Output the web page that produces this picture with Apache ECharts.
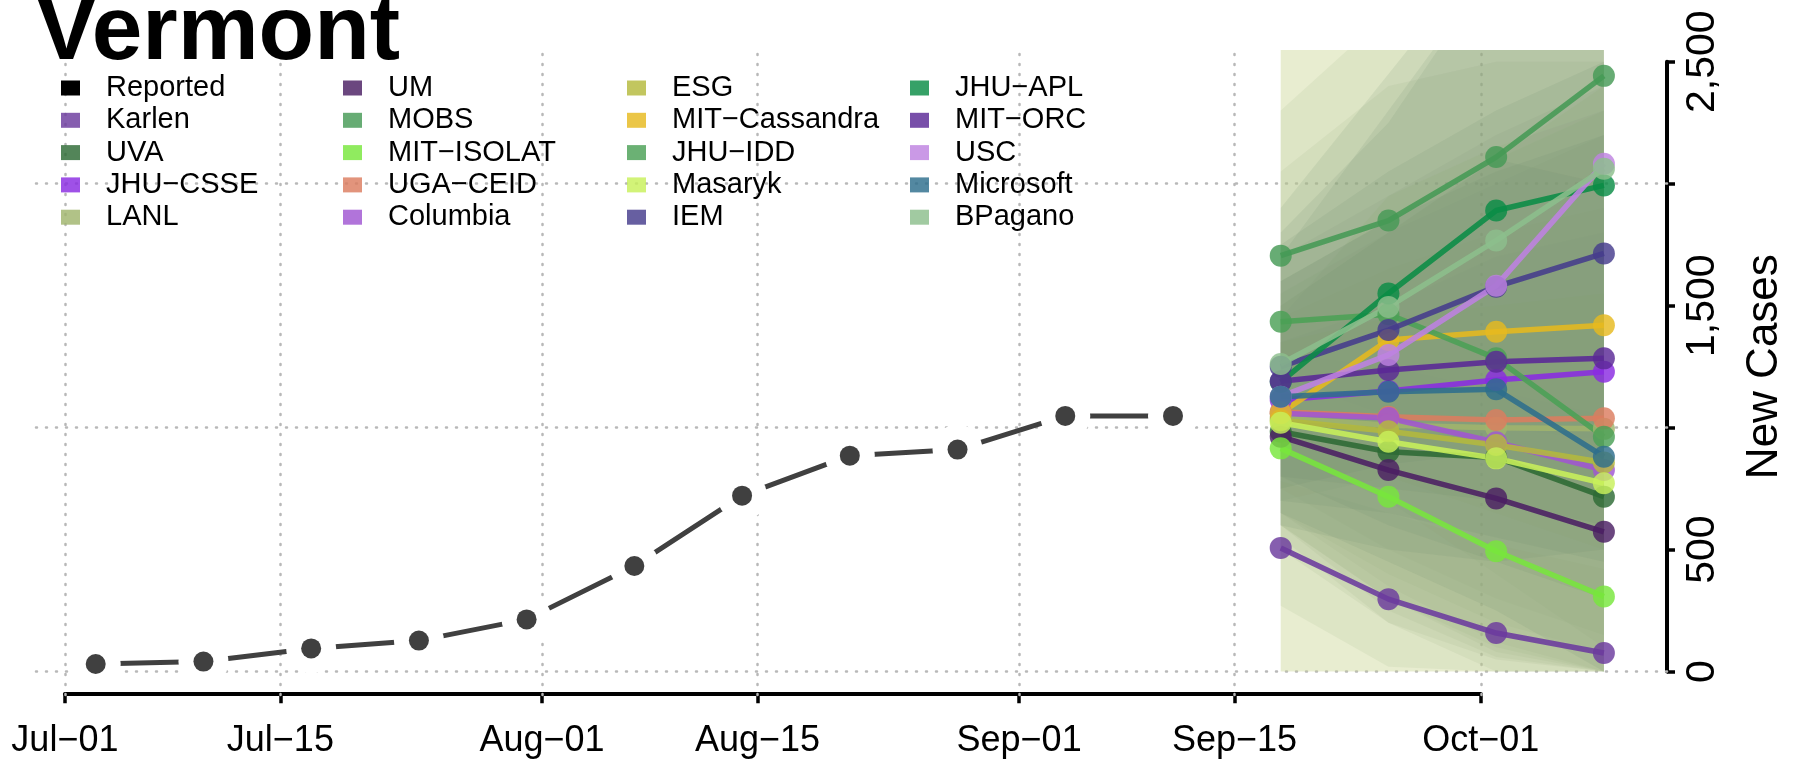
<!DOCTYPE html>
<html>
<head>
<meta charset="utf-8">
<script src="https://cdn.jsdelivr.net/npm/echarts@6/dist/echarts.min.js"></script>
<style>
html,body{margin:0;padding:0;background:#fff;}
#chart{width:1795px;height:764px;}
</style>
</head>
<body>
<div id="chart"></div>
<script>
// ---------- DATA ----------
const titleText = 'Vermont';
const yAxisName = 'New Cases';

const tickDates = ['2021-07-01','2021-07-15','2021-08-01','2021-08-15','2021-09-01','2021-09-15','2021-10-01'];
const tickLabels = ['Jul\u221201','Jul\u221215','Aug\u221201','Aug\u221215','Sep\u221201','Sep\u221215','Oct\u221201'];
const yTicks = [0, 500, 1000, 1500, 2000, 2500];
const yTickLabels = ['0', '500', '', '1,500', '', '2,500'];

const reportedDates = ['2021-07-03','2021-07-10','2021-07-17','2021-07-24','2021-07-31','2021-08-07',
                       '2021-08-14','2021-08-21','2021-08-28','2021-09-04','2021-09-11'];
const reportedCases = [31, 41, 95, 127, 214, 433, 721, 885, 910, 1048, 1048];

const forecastDates = ['2021-09-18','2021-09-25','2021-10-02','2021-10-09'];

const modelNames = ['Karlen','UVA','JHU\u2212CSSE','LANL','UM','MOBS','MIT\u2212ISOLAT','UGA\u2212CEID','Columbia',
                    'ESG','MIT\u2212Cassandra','JHU\u2212IDD','Masaryk','IEM','JHU\u2212APL','MIT\u2212ORC','USC','Microsoft','BPagano'];

const forecastMedian = [
  [507, 297, 158, 76],     // Karlen
  [983, 901, 878, 717],    // UVA
  [1113, 1150, 1195, 1229],// JHU-CSSE
  [1040, 1010, 1000, 995], // LANL
  [963, 826, 710, 573],    // UM
  [1705, 1849, 2109, 2442],// MOBS
  [915, 717, 493, 308],    // MIT-ISOLAT
  [1065, 1045, 1031, 1038],// UGA-CEID
  [1059, 1039, 940, 826],  // Columbia
  [1030, 985, 929, 857],   // ESG
  [1059, 1359, 1393, 1420],// MIT-Cassandra
  [1434, 1465, 1284, 963], // JHU-IDD
  [1020, 942, 874, 772],   // Masaryk
  [1250, 1400, 1578, 1714],// IEM
  [1188, 1550, 1890, 1993],// JHU-APL
  [1190, 1236, 1270, 1284],// MIT-ORC
  [1127, 1298, 1582, 2082],// USC
  [1127, 1147, 1157, 881], // Microsoft
  [1261, 1495, 1767, 2061] // BPagano
];
const forecastLower = [
  [270, 20, 0, 0],
  [650, 350, 120, 0],
  [750, 500, 300, 150],
  [600, 300, 80, 0],
  [600, 250, 60, 0],
  [1200, 1050, 1000, 950],
  [550, 200, 0, 0],
  [500, 200, 50, 0],
  [600, 300, 100, 0],
  [650, 400, 200, 80],
  [700, 800, 650, 500],
  [900, 700, 400, 100],
  [0, 0, 0, 0],
  [800, 750, 700, 600],
  [750, 850, 900, 700],
  [800, 600, 450, 300],
  [600, 500, 450, 500],
  [650, 450, 250, 0],
  [700, 650, 550, 450]
];
const forecastUpper = [
  [780, 650, 520, 420],
  [1350, 1500, 1700, 1800],
  [1500, 1800, 2100, 2400],
  [1500, 1800, 2100, 2300],
  [1350, 1450, 1500, 1550],
  [2300, 2700, 3100, 3700],
  [1300, 1250, 1150, 1050],
  [1700, 1950, 2200, 2400],
  [1550, 1800, 2000, 2200],
  [1450, 1650, 1800, 1900],
  [1450, 1950, 2150, 2300],
  [2050, 2400, 2500, 2500],
  [2700, 2800, 2900, 3000],
  [1750, 2050, 2300, 2500],
  [1700, 2300, 2900, 3200],
  [1600, 1850, 2050, 2200],
  [1800, 2250, 2900, 3700],
  [1600, 1850, 2100, 2000],
  [1900, 2450, 3000, 3500]
];

// ---------- STYLES ----------
const modelColors = {
  'Karlen':'#6b3a9e','UVA':'#2d6a34','JHU\u2212CSSE':'#8a2be2','LANL':'#a0b46c','UM':'#4b1f63',
  'MOBS':'#469a55','MIT\u2212ISOLAT':'#78e63c','UGA\u2212CEID':'#dc7d5f','Columbia':'#a055d2',
  'ESG':'#b4b93c','MIT\u2212Cassandra':'#e6b91e','JHU\u2212IDD':'#4ba055','Masaryk':'#c8f05a',
  'IEM':'#463c8c','JHU\u2212APL':'#0a8c46','MIT\u2212ORC':'#5a2896','USC':'#be82e1',
  'Microsoft':'#2d6e8c','BPagano':'#8cbe8c'
};
const bandFillDefault = 'rgba(112,140,112,0.13)';
const bandFillSpecial = {'Masaryk':'rgba(205,215,150,0.45)'};

const legendColumns = [
  ['Reported','Karlen','UVA','JHU\u2212CSSE','LANL'],
  ['UM','MOBS','MIT\u2212ISOLAT','UGA\u2212CEID','Columbia'],
  ['ESG','MIT\u2212Cassandra','JHU\u2212IDD','Masaryk','IEM'],
  ['JHU\u2212APL','MIT\u2212ORC','USC','Microsoft','BPagano']
];
const legendLefts = [61, 343, 627, 910];
const FONT = "'Liberation Sans', Arial, Helvetica, sans-serif";

// ---------- BUILD ----------
const origin = Date.parse('2021-07-01');
const dayOf = s => (Date.parse(s) - origin) / 86400000;
const tickDays = tickDates.map(dayOf);
const fDays = forecastDates.map(dayOf);

const series = [];

// gridlines (drawn first)
series.push({
  type: 'line', xAxisIndex: 0, yAxisIndex: 0, data: [], silent: true, z: 1,
  markLine: {
    silent: true, z: 1, symbol: ['none','none'], label: {show: false}, animation: false,
    lineStyle: {color: '#b8b8b8', type: [1, 9], width: 2.5, cap: 'round'},
    data: tickDays.map(d => ({xAxis: d})).concat([0, 1000, 2000].map(v => ({yAxis: v})))
  }
});

// interval bands (one polygon per model, positioned by the axes)
series.push({
  type: 'custom', xAxisIndex: 0, yAxisIndex: 0, z: 2, silent: true, clip: true,
  data: modelNames.map((m, i) => [i]),
  dimensions: ['model'],
  encode: {x: [], y: []},
  renderItem: function (params, api) {
    const i = api.value(0);
    const m = modelNames[i];
    const upper = fDays.map((d, k) => api.coord([d, forecastUpper[i][k]]));
    const lower = fDays.map((d, k) => api.coord([d, forecastLower[i][k]])).reverse();
    return {
      type: 'polygon',
      shape: {points: upper.concat(lower)},
      style: {fill: bandFillSpecial[m] || bandFillDefault, stroke: null}
    };
  }
});

// reported
const repData = reportedDates.map((d, k) => [dayOf(d), reportedCases[k]]);
series.push({
  name: 'Reported', type: 'line', xAxisIndex: 0, yAxisIndex: 0, z: 3,
  data: repData, symbol: 'none', color: '#404040',
  lineStyle: {color: '#404040', width: 5}
});
series.push({
  type: 'scatter', xAxisIndex: 0, yAxisIndex: 0, z: 4, silent: true,
  data: repData, symbol: 'circle', symbolSize: 50, itemStyle: {color: '#ffffff', opacity: 1}
});
series.push({
  type: 'scatter', xAxisIndex: 0, yAxisIndex: 0, z: 5, silent: true,
  data: repData, symbol: 'circle', symbolSize: 20, itemStyle: {color: '#404040', opacity: 1}
});

// forecasts
modelNames.forEach((m, i) => {
  series.push({
    name: m, type: 'line', xAxisIndex: 0, yAxisIndex: 0, z: 6,
    data: fDays.map((d, k) => [d, forecastMedian[i][k]]),
    color: modelColors[m],
    lineStyle: {width: 5.5, opacity: 0.88},
    symbol: 'circle', symbolSize: 22,
    itemStyle: {opacity: 0.82}
  });
});

const legends = legendColumns.map((col, c) => ({
  orient: 'vertical', left: legendLefts[c], top: 72, padding: 0,
  itemWidth: 19, itemHeight: 15, itemGap: 0.3, icon: 'rect', selectedMode: false,
  textStyle: {fontSize: 29, color: '#000', fontFamily: FONT, lineHeight: 32, padding: [0, 0, 0, 21]},
  data: col.map(n => n === 'Reported' ? {name: n, itemStyle: {color: '#000'}} : {name: n})
}));

const option = {
  animation: false,
  backgroundColor: '#fff',
  title: {
    text: titleText, left: 36, top: -12, padding: 0,
    textStyle: {fontSize: 91, fontWeight: 'bold', color: '#000', fontFamily: FONT}
  },
  legend: legends,
  grid: [
    {left: 36, top: 50, width: 1631, height: 645},
    {left: 64.9, top: 61.7, width: 1415.9, height: 609.9}
  ],
  xAxis: [
    {gridIndex: 0, type: 'value', min: -1.88, max: 104.1, show: false},
    {gridIndex: 1, type: 'value', min: 0, max: 92, position: 'bottom', offset: 21.7,
     axisLine: {show: true, onZero: false, lineStyle: {color: '#000', width: 4}},
     axisTick: {show: true, customValues: tickDays, length: 10, lineStyle: {color: '#000', width: 3.5}},
     axisLabel: {customValues: tickDays, fontSize: 36, margin: 30, color: '#000', fontFamily: FONT,
                 formatter: v => tickLabels[tickDays.indexOf(v)] || ''},
     splitLine: {show: false}}
  ],
  yAxis: [
    {gridIndex: 0, type: 'value', min: -96, max: 2548, show: false},
    {gridIndex: 1, type: 'value', min: 0, max: 2500, interval: 500, position: 'right', offset: 186.2,
     axisLine: {show: true, onZero: false, lineStyle: {color: '#000', width: 4}},
     axisTick: {show: true, length: 8, lineStyle: {color: '#000', width: 3.5}},
     axisLabel: {rotate: 90, fontSize: 41, margin: 15, color: '#000', fontFamily: FONT,
                 formatter: v => yTickLabels[yTicks.indexOf(v)] || ''},
     splitLine: {show: false},
     name: yAxisName, nameLocation: 'middle', nameGap: 76, nameRotate: 90,
     nameTextStyle: {fontSize: 44, color: '#000', fontFamily: FONT}}
  ],
  series: series
};

const chart = echarts.init(document.getElementById('chart'), null, {renderer: 'canvas'});
chart.setOption(option);
</script>
</body>
</html>
